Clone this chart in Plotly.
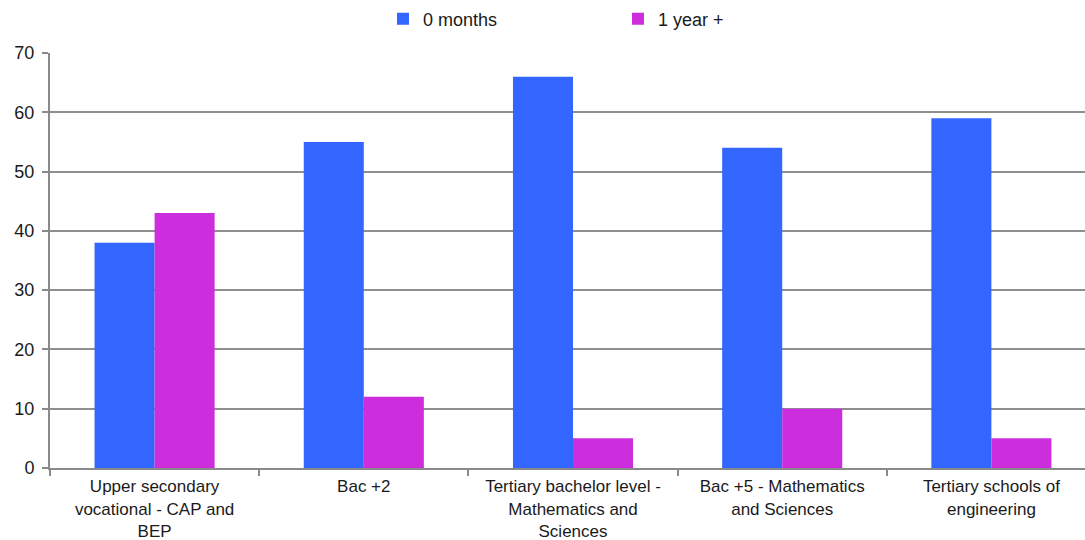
import plotly.graph_objects as go

categories = [
    "Upper secondary<br>vocational - CAP and<br>BEP",
    "Bac +2",
    "Tertiary bachelor level -<br>Mathematics and<br>Sciences",
    "Bac +5 - Mathematics<br>and Sciences",
    "Tertiary schools of<br>engineering",
]
zero_months = [38, 55, 66, 54, 59]
one_year_plus = [43, 12, 5, 10, 5]

fig = go.Figure()
fig.add_trace(go.Bar(name="0 months", x=categories, y=zero_months,
                     marker=dict(color="#3366FF", line=dict(width=0))))
fig.add_trace(go.Bar(name="1 year +", x=categories, y=one_year_plus,
                     marker=dict(color="#CC2EDD", line=dict(width=0))))

# plot area: 50px .. 1085px wide; the last category runs past the right edge
left, right = 50, 1085
x_end = 4.5 - (1096 - right) / 209.0

fig.update_layout(
    width=1085, height=540,
    barmode="group", bargap=0.426, bargroupgap=0,
    paper_bgcolor="white", plot_bgcolor="white",
    margin=dict(l=left, r=0, t=53, b=72, autoexpand=False),
    font=dict(family="Liberation Sans, Arial, sans-serif", size=18, color="#1a1a1a"),
    legend=dict(orientation="h", x=(383 - left) / (right - left), xanchor="left",
                y=1 + 34 / 415, yanchor="middle",
                entrywidth=190, itemwidth=30, font=dict(size=18)),
    showlegend=True,
)
fig.update_xaxes(
    range=[-0.5, x_end],
    showline=True, linecolor="#8a8a8a", linewidth=2,
    ticks="outside", tickson="boundaries", ticklen=6, tickcolor="#8a8a8a", tickwidth=1.5,
    showgrid=False, tickfont=dict(size=17), ticklabelstandoff=2,
)
fig.update_yaxes(
    range=[0, 70], dtick=10,
    showline=True, linecolor="#8a8a8a", linewidth=2,
    ticks="outside", ticklen=6, tickcolor="#8a8a8a", tickwidth=1.5,
    showgrid=True, gridcolor="#8f8f8f", gridwidth=2,
    zeroline=False, tickfont=dict(size=18), ticklabelstandoff=4,
)

fig.write_html("out.html")
